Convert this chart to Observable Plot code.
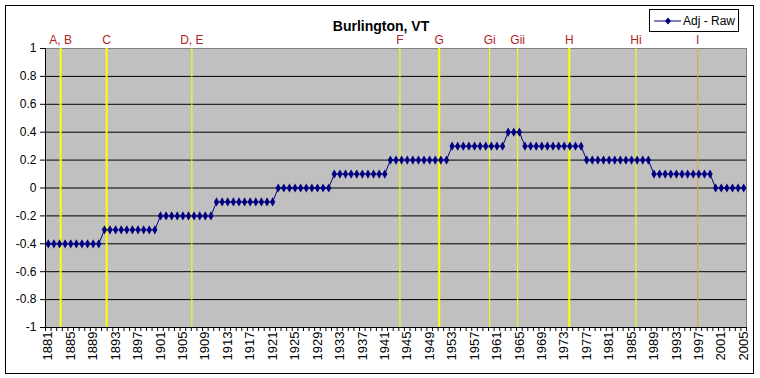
<!DOCTYPE html>
<html>
<head>
<meta charset="utf-8">
<script src="https://cdn.jsdelivr.net/npm/d3@7"></script>
<script src="https://cdn.jsdelivr.net/npm/@observablehq/plot@0.6"></script>
<style>
  body { margin: 0; background: #fff; }
  #wrap { position: relative; width: 760px; height: 378px; font-family: "Liberation Sans", Arial, sans-serif; }
  #border { position: absolute; left: 5px; top: 5px; width: 747px; height: 367px; border: 1px solid #000; pointer-events: none; }
  #legend { position: absolute; left: 649px; top: 9px; width: 88px; height: 21px; border: 1px solid #000; background: #fff; display: flex; align-items: center; font-size: 12px; }
  #legend svg { margin-left: 3px; margin-right: 2px; }
</style>
</head>
<body>
<div id="wrap">
  <div id="chart"></div>
  <div id="border"></div>
  <div id="legend"><svg width="28" height="10"><line x1="1" y1="5" x2="28" y2="5" stroke="#000080" stroke-width="1"/><path d="M15,1.5 L18,5 L15,8.5 L12,5 Z" fill="#000080"/></svg><span>Adj - Raw</span></div>
</div>
<script>
const title = "Burlington, VT";
const years = d3.range(1881, 2006);
const values = [
  -0.4,-0.4,-0.4,-0.4,-0.4,-0.4,-0.4,-0.4,-0.4,-0.4,
  -0.3,-0.3,-0.3,-0.3,-0.3,-0.3,-0.3,-0.3,-0.3,-0.3,
  -0.2,-0.2,-0.2,-0.2,-0.2,-0.2,-0.2,-0.2,-0.2,-0.2,
  -0.1,-0.1,-0.1,-0.1,-0.1,-0.1,-0.1,-0.1,-0.1,-0.1,-0.1,
  0,0,0,0,0,0,0,0,0,0,
  0.1,0.1,0.1,0.1,0.1,0.1,0.1,0.1,0.1,0.1,
  0.2,0.2,0.2,0.2,0.2,0.2,0.2,0.2,0.2,0.2,0.2,
  0.3,0.3,0.3,0.3,0.3,0.3,0.3,0.3,0.3,0.3,
  0.4,0.4,0.4,
  0.3,0.3,0.3,0.3,0.3,0.3,0.3,0.3,0.3,0.3,0.3,
  0.2,0.2,0.2,0.2,0.2,0.2,0.2,0.2,0.2,0.2,0.2,0.2,
  0.1,0.1,0.1,0.1,0.1,0.1,0.1,0.1,0.1,0.1,0.1,
  0,0,0,0,0,0
];
const eventLabels = ["A, B", "C", "D, E", "F", "G", "Gi", "Gii", "H", "Hi", "I"];
const eventYears  = [1883.2, 1891.4, 1906.6, 1943.7, 1950.7, 1959.7, 1964.7, 1973.9, 1985.8, 1996.8];
const yTicks = [-1, -0.8, -0.6, -0.4, -0.2, 0, 0.2, 0.4, 0.6, 0.8, 1];
const xTickLabels = [1881,1885,1889,1893,1897,1901,1905,1909,1913,1917,1921,1925,1929,1933,1937,1941,1945,1949,1953,1957,1961,1965,1969,1973,1977,1981,1985,1989,1993,1997,2001,2005];

const series = years.map((y, i) => ({year: y, value: values[i]}));
const events = eventLabels.map((l, i) => ({label: l, pos: eventYears[i]}));
const major = new Set(["A, B", "C", "G", "H"]);
const evColor = d => d.label === "I" ? "#F0A030" : "#FFFF00";
const evWidth = d => major.has(d.label) ? 2 : 1;
const bounds = [years[0] - 0.5, ...years.map(y => y + 0.5)];
const grid = yTicks.filter(v => v > -1 && v < 1);

const chart = Plot.plot({
  width: 760,
  height: 378,
  marginLeft: 45,
  marginRight: 14,
  marginTop: 48,
  marginBottom: 51,
  style: {fontFamily: "'Liberation Sans', Arial, sans-serif", fontSize: "12px", color: "#000", background: "transparent", overflow: "visible"},
  x: {domain: [bounds[0], bounds[bounds.length - 1]], axis: null, label: null},
  y: {domain: [-1, 1], axis: null, label: null},
  marks: [
    Plot.frame({fill: "#C0C0C0", stroke: "#808080"}),
    Plot.ruleY(grid, {stroke: "#000", strokeWidth: 1}),
    Plot.ruleX(events, {x: "pos", stroke: evColor, strokeWidth: evWidth}),
    Plot.ruleX([bounds[0]], {stroke: "#000"}),
    Plot.ruleY([-1], {stroke: "#000"}),
    Plot.line(series, {x: "year", y: "value", stroke: "#000080", strokeWidth: 1}),
    Plot.dot(series, {x: "year", y: "value", symbol: "diamond", r: 2.8, fill: "#000080", stroke: "none"}),
    Plot.axisY({ticks: yTicks, tickSize: 5, tickPadding: 4, tickFormat: d => String(d), fontSize: 12, label: null}),
    Plot.axisX({ticks: bounds, tickSize: 4, tickFormat: () => "", label: null}),
    Plot.axisX({ticks: xTickLabels, tickSize: 0, tickPadding: 4, tickRotate: -90, tickFormat: d => String(d), fontSize: 13, label: null}),
    Plot.text(events, {x: "pos", text: "label", frameAnchor: "top", lineAnchor: "bottom", dy: -5, fill: "#B22222", fontSize: 12}),
    Plot.text([title], {frameAnchor: "top", lineAnchor: "bottom", dx: -15, dy: -18, fontWeight: "bold", fontSize: 14})
  ]
});
document.getElementById("chart").appendChild(chart);
</script>
</body>
</html>
